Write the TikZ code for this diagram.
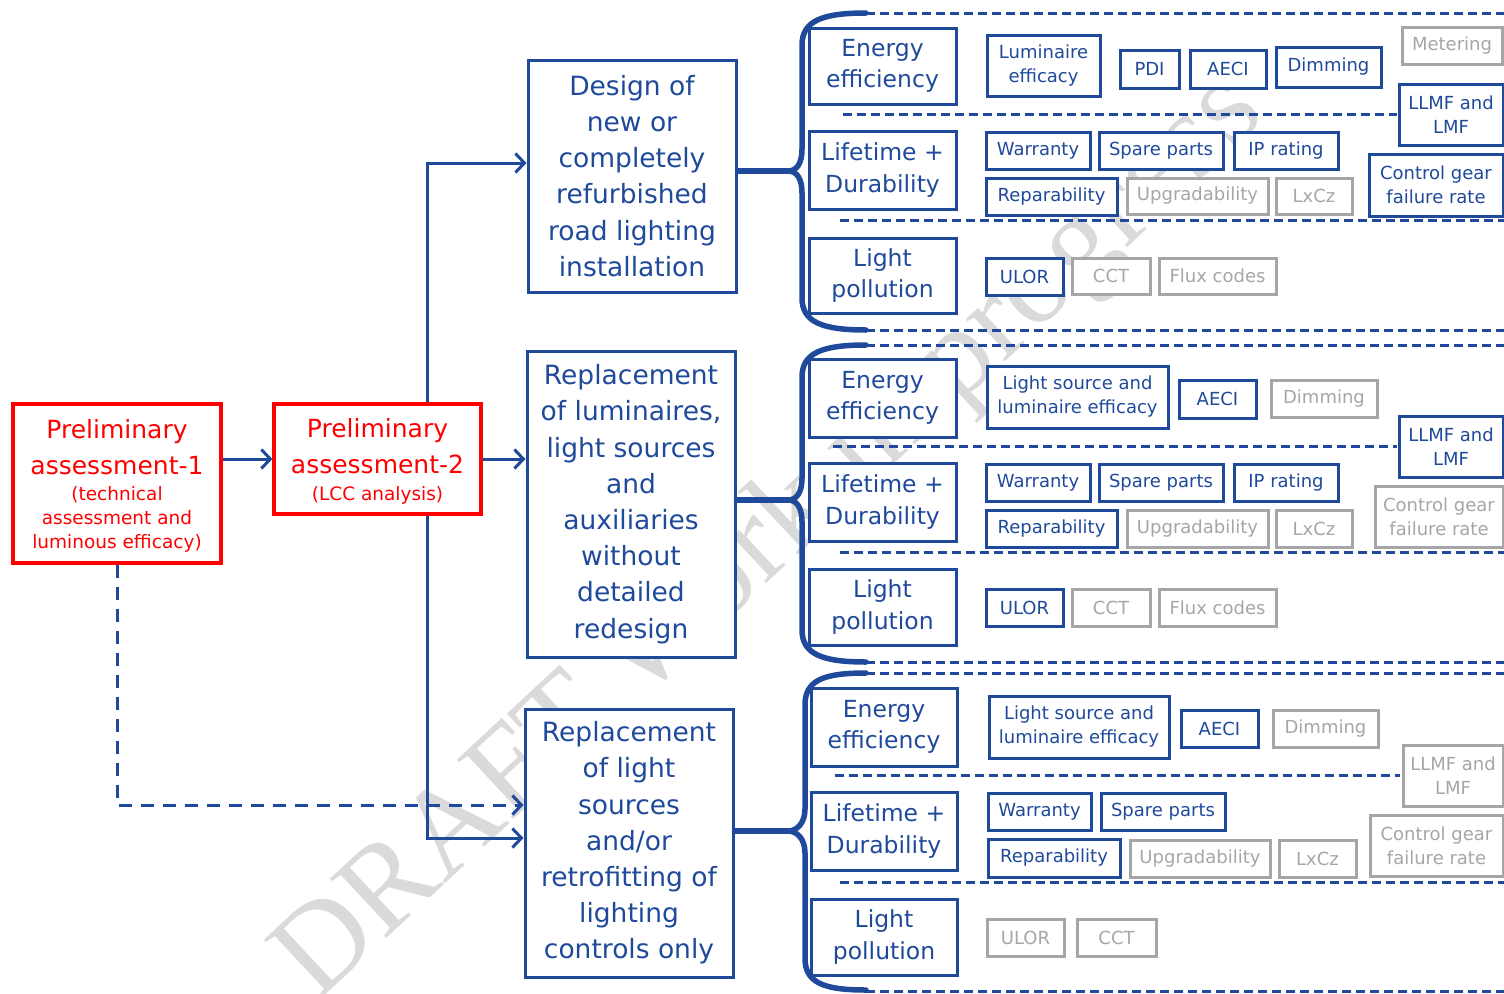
\documentclass[tikz,border=0pt]{standalone}
\usepackage{fontspec}
\setmainfont{DejaVu Sans}
\newfontfamily\wmfont{Liberation Serif}
\usetikzlibrary{arrows.meta,calc}
\definecolor{bl}{HTML}{1F4A9B}
\definecolor{gr}{HTML}{A6A6A6}
\definecolor{rd}{HTML}{FF0000}
\definecolor{wm}{HTML}{DADADA}
\newcommand\bx[6]{\node[#1,minimum width={#4-#2},minimum height={#5-#3}] (#6) at ({(#2+#4)/2},{(#3+#5)/2})}
\newcommand\mybrace[5]{% x, top, cusp, bottom, name
  \coordinate (#5) at (788,#3);
  \draw[brace] (866,#2) .. controls (822,#2) and (#1,{#2+8}) .. (#1,{#2+32}) -- (#1,{#3-22}) .. controls (#1,{#3-8}) and (797,#3) .. (#5) .. controls (797,#3) and (#1,{#3+8}) .. (#1,{#3+22}) -- (#1,{#4-32}) .. controls (#1,{#4-8}) and (822,#4) .. (866,#4);}
\begin{document}
\begin{tikzpicture}[x=1pt,y=-1pt,
 box/.style={draw=bl, line width=3pt, fill=white, text=bl, align=center, inner sep=0pt},
 bigbox/.style={box, font=\fontsize{26.5}{36.2}\selectfont},
 catbox/.style={box, font=\fontsize{23.5}{31.5}\selectfont},
 itm/.style={box, font=\fontsize{18}{24}\selectfont},
 gitm/.style={itm, draw=gr, text=gr},
 redbox/.style={draw=rd, line width=3.2pt, fill=white, inner sep=0pt},
 redbig/.style={text=rd, align=center, inner sep=0pt, font=\fontsize{25}{36}\selectfont},
 redsmall/.style={text=rd, align=center, inner sep=0pt, font=\fontsize{18.5}{24}\selectfont},
 arr/.style={draw=bl, line width=3pt, -{Straight Barb[length=9pt,width=19pt]}},
 darr/.style={arr, dash pattern=on 13pt off 9pt},
 sep/.style={draw=bl, line width=3pt, dash pattern=on 9pt off 5pt},
 brace/.style={draw=bl, line width=5.5pt, line cap=round},
]
\useasboundingbox (0,0) rectangle (1504,993);
% watermark
\node[rotate=43, text=wm, font=\wmfont\fontsize{125}{125}\selectfont, inner sep=0pt] (wmk) at (772,538) {DRAFT Work in progress};

% dashed separators
\foreach \y in {13,330,345,662,673,991} {\draw[sep] (866,\y) -- (1504,\y);}
\draw[sep] (843,114) -- (1397,114);
\draw[sep] (840,220) -- (1504,220);
\draw[sep] (833,446) -- (1397,446);
\draw[sep] (840,552) -- (1504,552);
\draw[sep] (835,775) -- (1400,775);
\draw[sep] (840,882) -- (1504,882);

% red boxes
\bx{redbox}{13}{404}{221}{563}{r1} {};
\node[redbig] (r1t) at (117,447) {Preliminary\\assessment-1};
\node[redsmall] (r1s) at (117,519) {(technical\\assessment and\\luminous efficacy)};
\bx{redbox}{274}{404}{481}{514}{r2} {};
\node[redbig] (r2t) at (377.5,446) {Preliminary\\assessment-2};
\node[redsmall] (r2s) at (377.5,495) {(LCC analysis)};

% main boxes
\bx{bigbox}{528}{60}{736}{292}{A} {Design of\\new or\\completely\\refurbished\\road lighting\\installation};
\bx{bigbox}{527}{351}{735}{657}{B} {Replacement\\of luminaires,\\light sources\\and\\auxiliaries\\without\\detailed\\redesign};
\bx{bigbox}{525}{709}{733}{977}{C} {Replacement\\of light\\sources\\and/or\\retrofitting of\\lighting\\controls only};

% left connectors
\coordinate (vx) at (427,0);
\coordinate (ya) at (0,163);
\coordinate (yc) at (0,838);
\coordinate (yd) at (0,805);
\draw[arr] (r1.east |- r2.west) -- (r2.west);
\draw[arr] (r2.east) -- (r2.east -| B.west);
\draw[arr] (r2.north -| vx) |- (A.west |- ya);
\draw[arr] (r2.south -| vx) |- (C.west |- yc);
\draw[darr] (r1.south) |- (C.west |- yd);

% braces
\mybrace{802}{13}{171}{330}{c1}
\mybrace{802}{345}{500}{662}{c2}
\mybrace{805}{673}{831}{990}{c3}
\draw[brace] (A.east |- c1) -- (c1);
\draw[brace] (B.east |- c2) -- (c2);
\draw[brace] (C.east |- c3) -- (c3);

% section 1
\bx{catbox}{809}{28}{956}{104}{e1} {Energy\\efficiency};
\bx{catbox}{809}{131}{956}{209}{l1} {Lifetime +\\Durability};
\bx{catbox}{809}{238}{956}{313}{p1} {Light\\pollution};
\bx{itm}{987}{35}{1100}{96}{lue1} {Luminaire\\efficacy};
\bx{itm}{1120}{50}{1179}{88}{pdi1} {PDI};
\bx{itm}{1190}{50}{1266}{88}{aec1} {AECI};
\bx{itm}{1276}{47}{1381}{87}{dim1} {Dimming};
\bx{gitm}{1402}{27}{1502}{64}{met1} {Metering};
\bx{itm}{1399}{84}{1503}{145}{llm1} {LLMF and\\LMF};
\bx{itm}{986}{132}{1090}{169}{war1} {Warranty};
\bx{itm}{1099}{132}{1223}{169}{spa1} {Spare parts};
\bx{itm}{1234}{132}{1338}{169}{ipr1} {IP rating};
\bx{itm}{986}{178}{1117}{215}{rep1} {Reparability};
\bx{gitm}{1127}{178}{1268}{214}{upg1} {Upgradability};
\bx{gitm}{1276}{178}{1352}{214}{lxc1} {LxCz};
\bx{itm}{1369}{154}{1503}{216}{cgf1} {Control gear\\failure rate};
\bx{itm}{986}{258}{1063}{295}{ulo1} {ULOR};
\bx{gitm}{1072}{258}{1150}{294}{cct1} {CCT};
\bx{gitm}{1159}{258}{1276}{294}{flx1} {Flux codes};

% section 2
\bx{catbox}{809}{359}{956}{437}{e2} {Energy\\efficiency};
\bx{catbox}{809}{463}{956}{541}{l2} {Lifetime +\\Durability};
\bx{catbox}{809}{569}{956}{645}{p2} {Light\\pollution};
\bx{itm}{987}{366}{1168}{428}{lue2} {Light source and\\luminaire efficacy};
\bx{itm}{1179}{380}{1256}{418}{aec2} {AECI};
\bx{gitm}{1271}{380}{1377}{417}{dim2} {Dimming};
\bx{itm}{1399}{416}{1503}{477}{llm2} {LLMF and\\LMF};
\bx{itm}{986}{464}{1090}{501}{war2} {Warranty};
\bx{itm}{1099}{464}{1223}{501}{spa2} {Spare parts};
\bx{itm}{1234}{464}{1338}{501}{ipr2} {IP rating};
\bx{itm}{986}{510}{1117}{547}{rep2} {Reparability};
\bx{gitm}{1127}{510}{1268}{547}{upg2} {Upgradability};
\bx{gitm}{1276}{510}{1352}{547}{lxc2} {LxCz};
\bx{gitm}{1375}{486}{1503}{547}{cgf2} {Control gear\\failure rate};
\bx{itm}{986}{589}{1063}{626}{ulo2} {ULOR};
\bx{gitm}{1072}{589}{1150}{626}{cct2} {CCT};
\bx{gitm}{1159}{589}{1276}{626}{flx2} {Flux codes};

% section 3
\bx{catbox}{811}{688}{957}{766}{e3} {Energy\\efficiency};
\bx{catbox}{811}{792}{957}{870}{l3} {Lifetime +\\Durability};
\bx{catbox}{811}{899}{957}{975}{p3} {Light\\pollution};
\bx{itm}{989}{696}{1169}{758}{lue3} {Light source and\\luminaire efficacy};
\bx{itm}{1181}{710}{1258}{747}{aec3} {AECI};
\bx{gitm}{1273}{710}{1378}{747}{dim3} {Dimming};
\bx{gitm}{1403}{745}{1503}{806}{llm3} {LLMF and\\LMF};
\bx{itm}{988}{793}{1091}{830}{war3} {Warranty};
\bx{itm}{1101}{793}{1225}{830}{spa3} {Spare parts};
\bx{itm}{988}{839}{1120}{877}{rep3} {Reparability};
\bx{gitm}{1130}{840}{1270}{877}{upg3} {Upgradability};
\bx{gitm}{1279}{840}{1356}{877}{lxc3} {LxCz};
\bx{gitm}{1370}{815}{1503}{876}{cgf3} {Control gear\\failure rate};
\bx{gitm}{987}{919}{1064}{956}{ulo3} {ULOR};
\bx{gitm}{1077}{919}{1156}{956}{cct3} {CCT};
\end{tikzpicture}
\end{document}
